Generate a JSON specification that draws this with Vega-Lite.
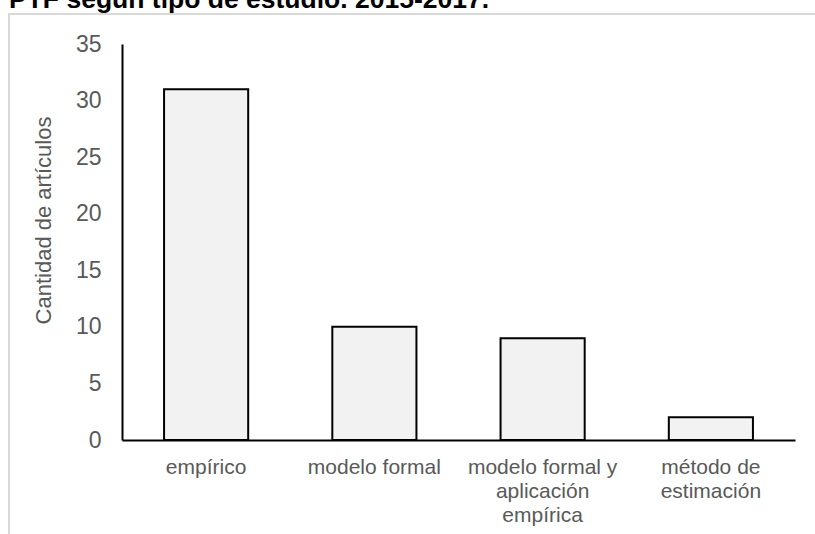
{
  "$schema": "https://vega.github.io/schema/vega-lite/v6.json",
  "autosize": {"type": "none"},
  "padding": {"left": 9, "top": 14, "right": -3, "bottom": -3},
  "width": 809,
  "height": 523,
  "background": "white",
  "title": {
    "text": "PTF según tipo de estudio. 2015-2017.",
    "anchor": "start",
    "frame": "group",
    "orient": "top",
    "baseline": "alphabetic",
    "offset": 0,
    "dy": 20,
    "font": "Liberation Sans",
    "fontSize": 26.5,
    "fontWeight": "bold",
    "color": "#000000"
  },
  "data": {
    "values": [
      {"tipo": "empírico", "articulos": 31},
      {"tipo": "modelo formal", "articulos": 10},
      {"tipo": "modelo formal y aplicación empírica", "articulos": 9},
      {"tipo": "método de estimación", "articulos": 2}
    ]
  },
  "mark": {"type": "bar", "fill": "#f2f2f2", "stroke": "#000000", "strokeWidth": 2},
  "encoding": {
    "x": {
      "field": "tipo",
      "type": "nominal",
      "sort": null,
      "scale": {"range": [113, 786], "paddingInner": 0.5, "paddingOuter": 0.25},
      "axis": {
        "title": null,
        "orient": "bottom",
        "offset": -97,
        "labelAngle": 0,
        "labelFont": "Liberation Sans",
        "labelFontSize": 21,
        "labelColor": "#595959",
        "labelLineHeight": 24,
        "labelPadding": 16,
        "labelLimit": 300,
        "ticks": false,
        "domainColor": "#000000",
        "domainWidth": 2,
        "labelExpr": "datum.value == 'modelo formal y aplicación empírica' ? ['modelo formal y', 'aplicación', 'empírica'] : datum.value == 'método de estimación' ? ['método de', 'estimación'] : datum.label"
      }
    },
    "y": {
      "field": "articulos",
      "type": "quantitative",
      "scale": {"domain": [0, 35], "range": [426, 30], "nice": false, "zero": true},
      "axis": {
        "title": "Cantidad de artículos",
        "orient": "left",
        "offset": -113,
        "values": [0, 5, 10, 15, 20, 25, 30, 35],
        "grid": false,
        "ticks": false,
        "labelFont": "Liberation Sans",
        "labelFontSize": 23,
        "labelColor": "#595959",
        "labelPadding": 21,
        "domainColor": "#000000",
        "domainWidth": 2,
        "titleFont": "Liberation Sans",
        "titleFontSize": 22,
        "titleFontWeight": "normal",
        "titleColor": "#595959",
        "titleAngle": 270,
        "titleAlign": "center",
        "titleBaseline": "alphabetic",
        "titleX": -72,
        "titleY": 206
      }
    }
  },
  "config": {
    "view": {"stroke": "#d9d9d9", "strokeWidth": 2}
  }
}
